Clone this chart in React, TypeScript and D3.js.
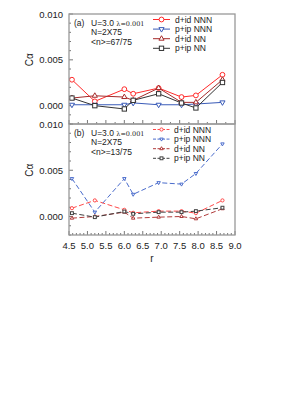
import * as d3 from "d3";

// r values (triangular lattice distances)
const rValues = [4.58, 5.2, 6.0, 6.24, 6.93, 7.55, 7.94, 8.66];
const xTickLabels = [4.5, 5.0, 5.5, 6.0, 6.5, 7.0, 7.5, 8.0, 8.5, 9.0];
const yTickLabels = [0.0, 0.005, 0.01];
const seriesNames = ["d+id NNN", "p+ip NNN", "d+id NN", "p+ip NN"];

// panel (a), <n>=67/75
const dNNN_a = [0.00283, 0.00047, 0.0018, 0.0013, 0.00192, 0.00094, 0.00112, 0.00337];
const pNNN_a = [0.0001, 0.0001, 0.0001, 0.0003, 0.0001, 0.0001, 0.00018, 0.00036];
const dNN_a = [0.00083, 0.00108, 0.00094, 0.00058, 0.00192, 0.00036, 0.00036, 0.00283];
const pNN_a = [0.00083, 0.0, -0.00036, 0.00058, 0.0013, 0.00029, -0.00025, 0.00253];

// panel (b), <n>=13/75
const dNNN_b = [0.0009, 0.00174, 0.00072, 0.0004, 0.00058, 0.00058, 0.00036, 0.00174];
const pNNN_b = [0.0041, 0.00047, 0.0041, 0.0024, 0.00366, 0.0035, 0.00465, 0.00785];
const dNN_b = [-0.00018, 0.0, 0.00047, -0.00018, -0.00007, 0.0, -0.00025, 0.00084];
const pNN_b = [0.00036, -0.00007, 0.00054, 0.00029, 0.00047, 0.00047, 0.00058, 0.00095];

const colorsA = ["#ff2a2a", "#3a5bb8", "#a52a2a", "#333333"];
const colorsB = ["#ff4a4a", "#4a6ccc", "#b03a3a", "#404040"];
const shapes = ["circle", "down", "up", "square"];

const left = 69;
const right = 235;
const font = "Liberation Sans, Arial, sans-serif";

const x = d3.scaleLinear().domain([4.5, 9.0]).range([left, right]);

function Marker({ shape, cx, cy, color, s }: any) {
  if (shape === "circle") {
    return <circle cx={cx} cy={cy} r={s} fill="white" stroke={color} strokeWidth={1} />;
  }
  if (shape === "square") {
    return (
      <rect x={cx - s * 0.9} y={cy - s * 0.9} width={s * 1.8} height={s * 1.8} fill="white" stroke={color} strokeWidth={1} />
    );
  }
  const path = d3.symbol(d3.symbolTriangle, s * s * 2)() as string;
  return (
    <path
      d={path}
      transform={`translate(${cx},${cy})${shape === "down" ? " rotate(180)" : ""}`}
      fill="white"
      stroke={color}
      strokeWidth={1}
    />
  );
}

function Panel({ top, bottom, series, colors, dashed, label, nText, ms, legendText, showX }: any) {
  const y = d3.scaleLinear().domain([-0.002, 0.01]).range([bottom, top]);
  const line = d3
    .line<number>()
    .x((_, i) => x(rValues[i]))
    .y((d) => y(d));
  const minorY = d3.range(-0.002, 0.0105, 0.001);
  const minorX = d3.range(4.5, 9.01, showX ? 0.1 : 0.25);
  return (
    <g>
      {minorY.map((v, i) => {
        const major = Math.abs(v / 0.005 - Math.round(v / 0.005)) < 1e-6;
        return (
          <line key={"yt" + i} x1={left} x2={left + (major ? 4 : 2)} y1={y(v)} y2={y(v)} stroke="#555" strokeWidth={0.8} />
        );
      })}
      {minorX.map((v, i) => {
        const major = Math.abs(v / 0.5 - Math.round(v / 0.5)) < 1e-6;
        return (
          <line key={"xt" + i} x1={x(v)} x2={x(v)} y1={bottom} y2={bottom - (major ? 4 : 2)} stroke="#555" strokeWidth={0.8} />
        );
      })}
      {yTickLabels.map((v) => (
        <text key={"yl" + v} x={63} y={y(v) + 3.5} textAnchor="end" fontSize={9.5} fill="#222" fontFamily={font}>
          {v.toFixed(3)}
        </text>
      ))}
      <text
        transform={`translate(${33},${y(0.005)}) rotate(-90)`}
        textAnchor="middle"
        fontSize={10}
        fill="#222"
        fontFamily={font}
      >
        Cα
      </text>
      {series.map((s: number[], k: number) => (
        <g key={"s" + k}>
          <path
            d={line(s) as string}
            fill="none"
            stroke={colors[k]}
            strokeWidth={1}
            strokeDasharray={dashed ? "5,2.5" : undefined}
          />
          {s.map((v, i) => (
            <Marker key={i} shape={shapes[k]} cx={x(rValues[i])} cy={y(v)} color={colors[k]} s={ms} />
          ))}
        </g>
      ))}
      <rect x={left} y={top} width={right - left} height={bottom - top} fill="none" stroke="#999" strokeWidth={1.3} />
      <g fontFamily={font} fontSize={8.5} fill="#222">
        <text x={74} y={top + 11.5}>
          {label}
          <tspan x={91}>U=3.0 </tspan>
          <tspan fontFamily="DejaVu Serif, serif" fontSize={6.5}>λ=0.001</tspan>
        </text>
        <text x={91} y={top + 21}>N=2X75</text>
        <text x={91} y={top + 31}>{nText}</text>
      </g>
      {seriesNames.map((n, k) => {
        const ly = top + 5.5 + k * 9.6;
        return (
          <g key={"lg" + k}>
            <line
              x1={153}
              x2={170}
              y1={ly}
              y2={ly}
              stroke={colors[k]}
              strokeWidth={1}
              strokeDasharray={dashed ? "3,1.5" : undefined}
            />
            <Marker shape={shapes[k]} cx={161.5} cy={ly} color={colors[k]} s={ms} />
            <text x={legendText} y={ly + 3} fontSize={8.5} fill="#222" fontFamily={font}>
              {n}
            </text>
          </g>
        );
      })}
    </g>
  );
}

export default function App() {
  return (
    <svg width={290} height={411} style={{ position: "absolute", left: 0, top: 0, background: "white" }}>
      <Panel
        top={14}
        bottom={124}
        series={[dNNN_a, pNNN_a, dNN_a, pNN_a]}
        colors={colorsA}
        dashed={false}
        label="(a)"
        nText="<n>=67/75"
        ms={2.4}
        legendText={175}
        showX={false}
      />
      <Panel
        top={124}
        bottom={235}
        series={[dNNN_b, pNNN_b, dNN_b, pNN_b]}
        colors={colorsB}
        dashed={true}
        label="(b)"
        nText="<n>=13/75"
        ms={1.6}
        legendText={174}
        showX={true}
      />
      {xTickLabels.map((v) => (
        <text key={"xl" + v} x={x(v)} y={249} textAnchor="middle" fontSize={9.5} fill="#222" fontFamily={font}>
          {v.toFixed(1)}
        </text>
      ))}
      <text x={152} y={262} textAnchor="middle" fontSize={10} fill="#222" fontFamily={font}>
        r
      </text>
    </svg>
  );
}
